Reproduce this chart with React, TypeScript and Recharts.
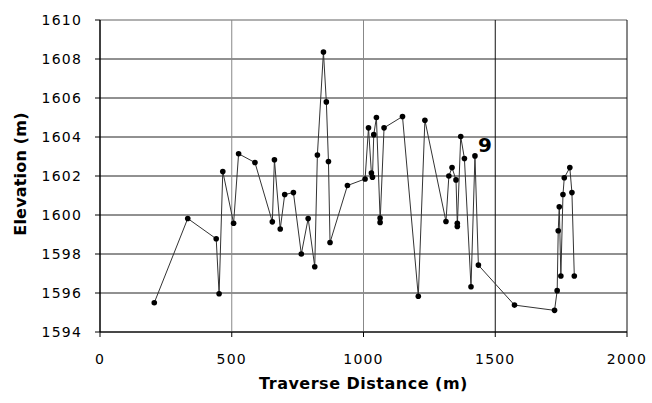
import React from 'react';
import {
  LineChart,
  Line,
  XAxis,
  YAxis,
  CartesianGrid,
  ReferenceLine,
  LabelList,
} from 'recharts';

const distance = [
  206, 333, 441, 452, 466, 507, 526, 588, 654, 662, 684, 701, 734, 764, 790, 815, 825, 848,
  859, 867, 873, 939, 1006, 1019, 1030, 1034, 1039, 1049, 1063, 1063, 1078, 1148, 1208, 1233,
  1313, 1324, 1336, 1351, 1356, 1356, 1369, 1383, 1408, 1423, 1436, 1573, 1725, 1735, 1739,
  1743, 1749, 1757, 1762, 1783, 1791, 1800,
];

const elevation = [
  1595.5, 1599.82, 1598.78, 1595.96, 1602.23, 1599.58, 1603.14, 1602.69, 1599.65, 1602.83,
  1599.28, 1601.05, 1601.15, 1598.0, 1599.82, 1597.35, 1603.08, 1608.36, 1605.8, 1602.74,
  1598.59, 1601.51, 1601.85, 1604.47, 1602.15, 1601.94, 1604.12, 1605.0, 1599.84, 1599.62,
  1604.47, 1605.05, 1595.83, 1604.86, 1599.67, 1602.0, 1602.43, 1601.8, 1599.58, 1599.41,
  1604.02, 1602.9, 1596.32, 1603.03, 1597.43, 1595.38, 1595.11, 1596.12, 1599.19, 1600.42,
  1596.87, 1601.05, 1601.91, 1602.43, 1601.15, 1596.87,
];

const xTicks = [0, 500, 1000, 1500, 2000];
const yTicks = [1594, 1596, 1598, 1600, 1602, 1604, 1606, 1608, 1610];

const annotationIndex = 43;
const annotationText = '9';

const data = distance.map((d, i) => ({ distance: d, elevation: elevation[i] }));

const tickFont = { fontFamily: 'DejaVu Sans', fontSize: 14, fill: '#000', letterSpacing: 1.2 };

const YTitle = (props: any) => {
  const vb = props.viewBox || {};
  const cx = vb.x + 20;
  const cy = vb.y + vb.height / 2 - 2;
  return (
    <text
      x={cx}
      y={cy}
      transform={`rotate(-90 ${cx} ${cy})`}
      textAnchor="middle"
      dominantBaseline="central"
      fontFamily="DejaVu Sans"
      fontWeight="bold"
      fontSize={16}
      letterSpacing={0.2}
      fill="#000"
    >
      Elevation (m)
    </text>
  );
};

const XTitle = (props: any) => {
  const vb = props.viewBox || {};
  const cx = vb.x + vb.width / 2;
  const cy = vb.y + 51;
  return (
    <text
      x={cx}
      y={cy}
      textAnchor="middle"
      dominantBaseline="central"
      fontFamily="DejaVu Sans"
      fontWeight="bold"
      fontSize={16}
      letterSpacing={0.5}
      fill="#000"
    >
      Traverse Distance (m)
    </text>
  );
};

const renderAnnotation = (props: any) => {
  if (props.index !== annotationIndex) return null;
  return (
    <text
      x={props.x + 3}
      y={props.y - 4}
      fontFamily="DejaVu Sans"
      fontWeight="bold"
      fontSize={20}
      fill="#000"
    >
      {annotationText}
    </text>
  );
};

export default function App() {
  return (
    <div style={{ position: 'absolute', left: 0, top: 0, background: '#fff' }}>
      <LineChart
        width={652}
        height={403}
        data={data}
        margin={{ top: 20, right: 25, bottom: 0, left: 0 }}
      >
        <CartesianGrid vertical={false} stroke="#222" strokeWidth={1} />
        <ReferenceLine y={1610} stroke="#bbb" strokeWidth={1.5} />
        <ReferenceLine x={500} stroke="#888" />
        <ReferenceLine x={1000} stroke="#888" />
        <ReferenceLine x={1500} stroke="#111" />
        <ReferenceLine x={2000} stroke="#111" />
        <XAxis
          dataKey="distance"
          type="number"
          domain={[0, 2000]}
          ticks={xTicks}
          interval={0}
          height={71}
          tickSize={5}
          tickMargin={17}
          tickLine={{ stroke: '#000' }}
          axisLine={{ stroke: '#000' }}
          tick={tickFont}
          label={<XTitle />}
        />
        <YAxis
          type="number"
          domain={[1594, 1610]}
          ticks={yTicks}
          interval={0}
          width={100}
          tickSize={5}
          tickMargin={13}
          tickLine={{ stroke: '#000' }}
          axisLine={{ stroke: '#000', strokeWidth: 1.5 }}
          tick={tickFont}
          label={<YTitle />}
        />
        <Line
          type="linear"
          dataKey="elevation"
          stroke="#333"
          strokeWidth={1}
          dot={{ r: 2.8, fill: '#000', stroke: 'none' }}
          activeDot={false}
          isAnimationActive={false}
        >
          <LabelList dataKey="elevation" content={renderAnnotation} />
        </Line>
      </LineChart>
    </div>
  );
}
